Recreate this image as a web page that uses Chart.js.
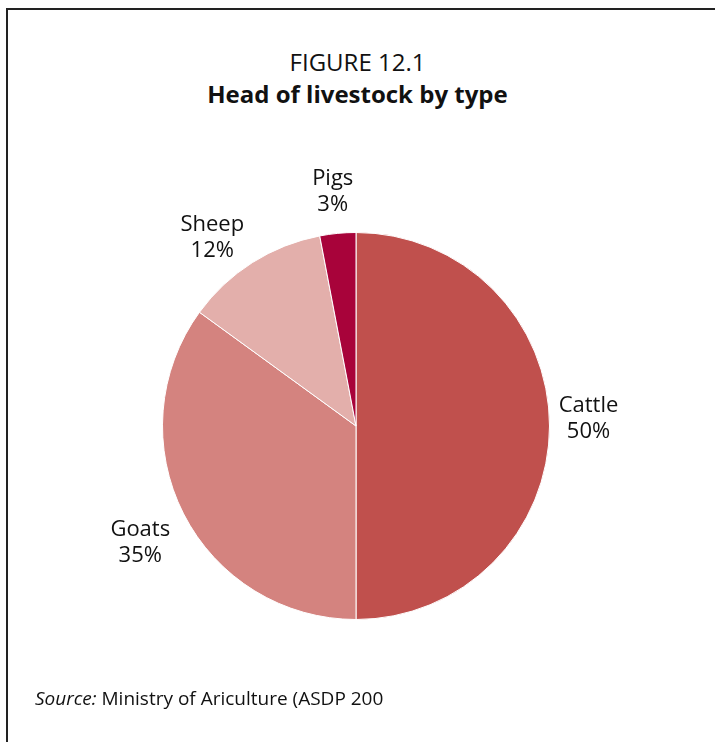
<!DOCTYPE html>
<html>
<head>
<meta charset="utf-8">
<script src="https://cdn.jsdelivr.net/npm/chart.js@4.4.1/dist/chart.umd.min.js"></script>
<style>
  html, body { margin: 0; padding: 0; background: #fff; }
  body { width: 715px; height: 742px; position: relative; overflow: hidden; font-family: "Open Sans", "Noto Sans", sans-serif; color: #111; }
  .frame { position: absolute; left: 6px; top: 8px; width: 760px; height: 800px; border-top: 2px solid #222; border-left: 2px solid #222; }
  .titulo { position: absolute; left: 0; width: 715px; text-align: center; line-height: 32px; }
  #t1 { top: 46px; font-size: 24px; }
  #t2 { top: 78px; font-size: 24px; font-weight: bold; }
  #fuente { position: absolute; left: 35px; top: 685px; font-size: 19px; line-height: 26px; }
  #grafico { position: absolute; left: 0; top: 0; }
</style>
</head>
<body>
<div class="frame"></div>
<div class="titulo" id="t1">FIGURE 12.1</div>
<div class="titulo" id="t2">Head of livestock by type</div>
<canvas id="grafico" width="715" height="742"></canvas>
<div id="fuente"><i>Source:</i> Ministry of Ariculture (ASDP 200</div>

<script>
// Datos del gráfico
const tipos = ['Cattle', 'Goats', 'Sheep', 'Pigs'];
const porcentajes = [50, 35, 12, 3];
const colores = ['#c0504d', '#d4837f', '#e3afab', '#a8033a'];

// Pequeños desplazamientos (px) de cada etiqueta respecto a su posición radial
const ajusteEtiquetas = [[-4, -7], [-5, 9], [-17, 11], [-1, 1]];

// Etiquetas fuera de cada porción: nombre y porcentaje
const etiquetasFuera = {
    id: 'etiquetasFuera',
    afterDatasetsDraw(chart) {
        const ctx = chart.ctx;
        const arcs = chart.getDatasetMeta(0).data;
        ctx.save();
        ctx.font = '22px "Open Sans", "Noto Sans", sans-serif';
        ctx.fillStyle = '#111';
        ctx.textAlign = 'center';
        ctx.textBaseline = 'middle';
        arcs.forEach(function (arc, i) {
            const p = arc.getProps(['x', 'y', 'startAngle', 'endAngle', 'outerRadius'], true);
            const medio = (p.startAngle + p.endAngle) / 2;
            const dist = p.outerRadius + 43;
            const x = p.x + Math.cos(medio) * dist + ajusteEtiquetas[i][0];
            const y = p.y + Math.sin(medio) * dist + ajusteEtiquetas[i][1];
            ctx.fillText(tipos[i], x, y - 13);
            ctx.fillText(porcentajes[i] + '%', x, y + 13);
        });
        ctx.restore();
    }
};

const canvas = document.getElementById('grafico');
new Chart(canvas.getContext('2d'), {
    type: 'pie',
    data: {
        labels: tipos,
        datasets: [{
            data: porcentajes,
            backgroundColor: colores,
            borderColor: '#ffffff',
            borderWidth: 1
        }]
    },
    options: {
        responsive: false,
        animation: false,
        layout: { padding: { left: 162, right: 165, top: 232, bottom: 122 } },
        plugins: {
            legend: { display: false },
            tooltip: { enabled: false }
        }
    },
    plugins: [etiquetasFuera]
});
</script>
</body>
</html>
